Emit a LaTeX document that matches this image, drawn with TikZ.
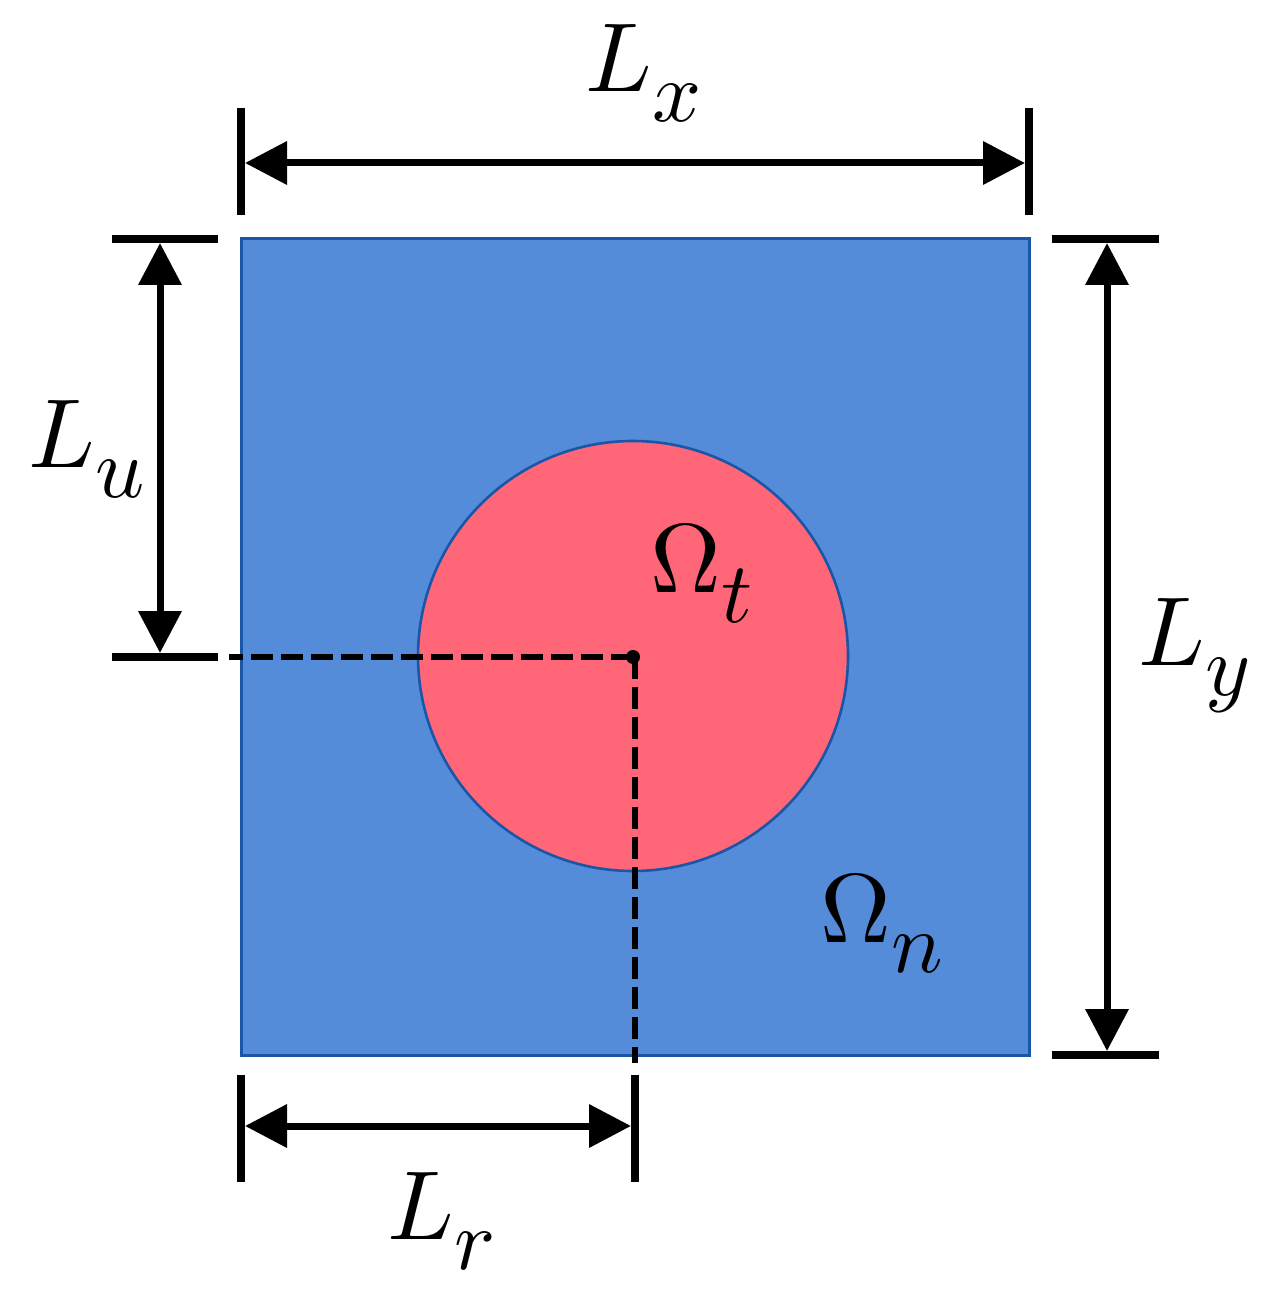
\documentclass[tikz,border=0pt]{standalone}
\usepackage{tikz}
\usepackage{graphicx}
\usetikzlibrary{arrows.meta}

\definecolor{outerblue}{RGB}{85,140,217}
\definecolor{edgeblue}{RGB}{26,86,168}
\definecolor{innerred}{RGB}{255,103,121}

\newcommand{\dimlbl}[2]{\scalebox{4.9}{$#1$}\raisebox{-15pt}{\scalebox{4.3}{$#2$}}}
\newcommand{\omlbl}[1]{\scalebox{4.9}{$\Omega$}\raisebox{-15pt}{\scalebox{4.3}{$#1$}}}

\tikzset{
  tick/.style={line width=4pt},
  dimarrow/.style={line width=3.5pt, {Triangle[length=21pt,width=21pt]}-{Triangle[length=21pt,width=21pt]}},
  guide/.style={line width=3pt, dash pattern={on 11pt off 4pt}},
}

\begin{document}
\begin{tikzpicture}[x=0.5pt,y=0.5pt,yscale=-1,xscale=1]
    \useasboundingbox (0,0) rectangle (1273,1309);

    %Shapes
    \draw [edgeblue, line width=1.5pt, fill=outerblue] (241,239) rectangle (1029,1055);
    \draw [edgeblue, line width=1.3pt, fill=innerred] (633,656) circle [radius=215];

    %Coordinates
    \coordinate (ctr) at (633,657);
    \coordinate (lft) at (229,657);
    \coordinate (bot) at (635,1063);
    \coordinate (ctrb) at (635,657);

    %Dashed guides
    \draw [guide] (ctr) -- (lft);
    \draw [guide] (ctrb) -- (bot);
    \fill (ctr) circle [radius=7];

    %Ticks
    \draw [tick] (241,108) -- (241,215);
    \draw [tick] (1029,108) -- (1029,215);
    \draw [tick] (112,239) -- (218,239);
    \draw [tick] (112,657) -- (218,657);
    \draw [tick] (1052,239) -- (1159,239);
    \draw [tick] (1052,1055) -- (1159,1055);
    \draw [tick] (241,1075) -- (241,1182);
    \draw [tick] (635,1075) -- (635,1182);

    %Dimension arrows
    \coordinate (xa) at (245,163);
    \coordinate (xb) at (1025,163);
    \coordinate (ua) at (160,243);
    \coordinate (ub) at (160,653);
    \coordinate (ya) at (1107,243);
    \coordinate (yb) at (1107,1051);
    \coordinate (ra) at (245,1126);
    \coordinate (rb) at (631,1126);
    \draw [dimarrow] (xa) -- (xb);
    \draw [dimarrow] (ua) -- (ub);
    \draw [dimarrow] (ya) -- (yb);
    \draw [dimarrow] (ra) -- (rb);

    % Text Node
    \node (lx) [anchor=base west, inner sep=0pt] at (585,92) {\dimlbl{L}{x}};
    % Text Node
    \node (lu) [anchor=base west, inner sep=0pt] at (28,467) {\dimlbl{L}{u}};
    % Text Node
    \node (ly) [anchor=base west, inner sep=0pt] at (1138,665) {\dimlbl{L}{y}};
    % Text Node
    \node (lr) [anchor=base west, inner sep=0pt] at (387,1239) {\dimlbl{L}{r}};
    % Text Node
    \node (omt) [anchor=base west, inner sep=0pt] at (650,592) {\omlbl{t}};
    % Text Node
    \node (omn) [anchor=base west, inner sep=0pt] at (820,942) {\omlbl{n}};
\end{tikzpicture}
\end{document}
